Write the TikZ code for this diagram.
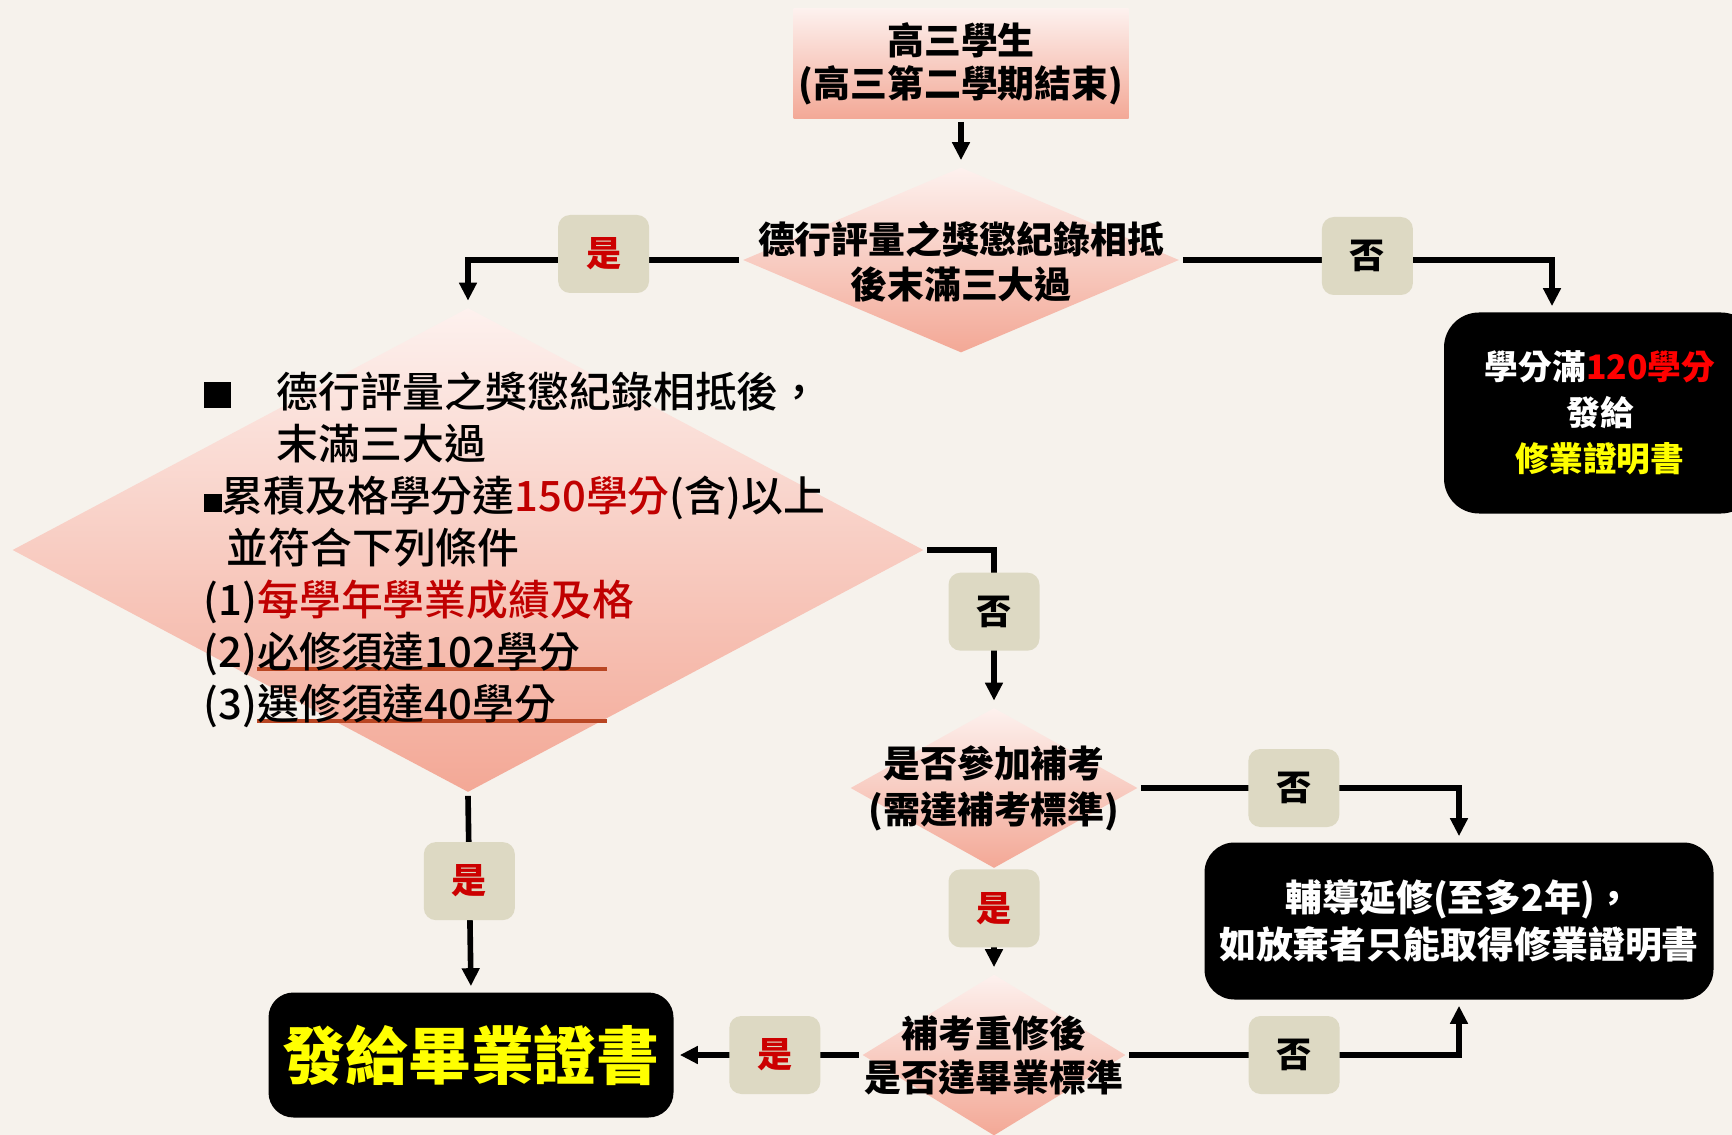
\documentclass[tikz,border=0pt]{standalone}
\usepackage{fontspec}
\setmainfont{Noto Sans CJK TC}
\newfontfamily\medfont{Noto Sans CJK TC Medium}
\usepackage{tikz}
\usetikzlibrary{
        arrows.meta,
        positioning,
        shapes.geometric
    }
\definecolor{paper}{RGB}{246,242,236}
\definecolor{pinktop}{RGB}{253,241,238}
\definecolor{pinkbot}{RGB}{243,168,150}
\definecolor{tagfill}{RGB}{221,217,195}
\definecolor{darkred}{RGB}{192,0,0}
\definecolor{yesred}{RGB}{204,0,0}
\definecolor{ulorange}{RGB}{185,70,35}
\definecolor{hotred}{RGB}{255,0,0}
\definecolor{hotyellow}{RGB}{255,255,0}
\newcommand{\ulrule}{\rlap{\textcolor{ulorange}{\rule[-0.035cm]{3.5cm}{0.045cm}}}}
\tikzset{>={Triangle[length=0.18cm,width=0.17cm]},shorten >=1pt,node distance=2cm}
\tikzset{
  startbox/.style={rectangle, inner sep=0pt, minimum width=3.35cm, minimum height=1.10cm,
    top color=pinktop, bottom color=pinkbot, align=center,
    font=\fontsize{10.5pt}{12.4pt}\selectfont\bfseries},
  decision/.style={diamond, inner sep=0pt, top color=pinktop, bottom color=pinkbot},
  dtext/.style={align=center, inner sep=0pt, font=\fontsize{10.5pt}{12.8pt}\selectfont\bfseries},
  listtext/.style={align=left, inner sep=0pt, font=\fontsize{11.9pt}{14.8pt}\medfont},
  endbox/.style={rectangle, rounded corners=0.3cm, fill=black, inner sep=0pt, align=center,
    text=white, font=\fontsize{10.5pt}{13.4pt}\selectfont\bfseries},
  tag/.style={rectangle, rounded corners=0.12cm, fill=tagfill, inner sep=0pt,
    minimum width=0.91cm, minimum height=0.78cm, font=\fontsize{10pt}{12pt}\selectfont\bfseries}
}
\begin{document}
\begin{tikzpicture}[shorten >=1pt,line width=1.6pt,on grid]
    \fill[paper] (0,0) rectangle (17.32,-11.35);
    \useasboundingbox (0,0) rectangle (17.32,-11.35);

    \node[startbox] (top) at (9.61,-0.64) {高三學生\\(高三第二學期結束)};
    \node[decision, minimum width=4.38cm, minimum height=1.87cm] (d1) [below=1.96cm of top] {};
    \node[dtext] (d1t) at ([yshift=-0.02cm]d1.center) {德行評量之獎懲紀錄相抵\\後末滿三大過};

    \node[decision, minimum width=9.13cm, minimum height=4.86cm] (d2) [below left=2.90cm and 4.93cm of d1] {};
    \node[listtext, anchor=west] (d2t) at ([xshift=-2.67cm]d2.center) {%
        \rule{0.27cm}{0.26cm}\hspace*{0.46cm}德行評量之獎懲紀錄相抵後，\\
        \hspace*{0.73cm}末滿三大過\\
        \rule{0.18cm}{0.18cm}累積及格學分達\textcolor{darkred}{150學分}(含)以上\\
        \hspace*{0.23cm}並符合下列條件\\
        (1)\textcolor{darkred}{每學年學業成績及格}\\
        (2)\ulrule 必修須達102學分\\
        (3)\ulrule 選修須達40學分};

    \node[endbox, minimum width=3.12cm, minimum height=2.01cm, rounded corners=0.35cm,
        font=\fontsize{9.6pt}{13.1pt}\selectfont\bfseries] (r1) [below right=1.53cm and 6.39cm of d1]
        {學分滿\textcolor{hotred}{120學分}\\發給\\\textcolor{hotyellow}{修業證明書}};
    \coordinate (r1in) at ([xshift=-0.48cm]r1.north);

    \node[decision, minimum width=2.89cm, minimum height=1.62cm] (d3) [below right=2.38cm and 5.26cm of d2] {};
    \node[dtext, font=\fontsize{10.5pt}{13.1pt}\selectfont\bfseries] (d3t) at (d3) {是否參加補考\\(需達補考標準)};

    \node[decision, minimum width=2.65cm, minimum height=1.63cm] (d4) [below=2.67cm of d3] {};
    \node[dtext, font=\fontsize{10.5pt}{12.5pt}\selectfont\bfseries] (d4t) at (d4) {補考重修後\\是否達畢業標準};

    \node[endbox, minimum width=5.09cm, minimum height=1.57cm] (b2) [below right=1.33cm and 4.65cm of d3]
        {輔導延修(至多2年)，\\如放棄者只能取得修業證明書};
    \node[endbox, minimum width=4.05cm, minimum height=1.25cm, rounded corners=0.25cm,
        text=hotyellow, font=\fontsize{17.9pt}{20pt}\selectfont\bfseries] (grad) [left=5.23cm of d4] {發給畢業證書};

    \draw[->] (top) -- (d1);
    \draw[->] (d1.west) -| node[tag, pos=0.25, yshift=0.06cm] (yes1) {\textcolor{yesred}{是}} (d2.north);
    \draw[->] (d1.east) -| node[tag, pos=0.25, yshift=0.04cm] (no1) {否} (r1in);
    \draw[->] (d2.east) -| node[tag, pos=0.70] (no2) {否} (d3.north);
    \draw[->] (d3.east) -| node[tag, pos=0.24] (no3) {否} (b2.north);
    \draw[->] (d3.south) -- node[tag, pos=0.37] (yes2) {\textcolor{yesred}{是}} (d4.north);
    \draw[->] (d4.east) -| node[tag, pos=0.25] (no4) {否} (b2.south);
    \draw[->] (d4.west) -- node[tag, pos=0.46] (yes3) {\textcolor{yesred}{是}} (grad.east);
    \draw[->] (d2.south) -- node[tag, pos=0.44] (yes4) {\textcolor{yesred}{是}} (grad.north);
\end{tikzpicture}
\end{document}
